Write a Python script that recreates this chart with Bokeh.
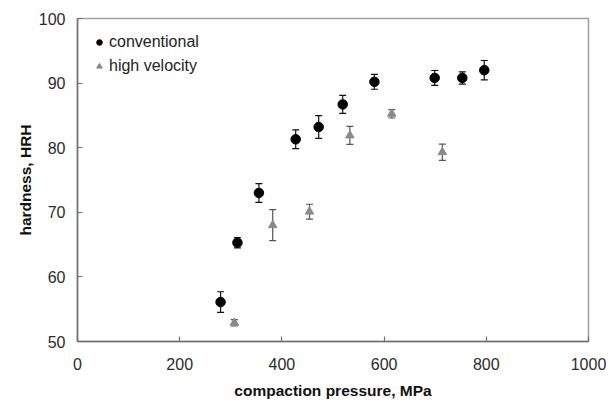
from bokeh.plotting import figure
from bokeh.models import (ColumnDataSource, Whisker, TeeHead, Legend, LegendItem,
                          FixedTicker, Range1d)
from bokeh.embed import file_html
from bokeh.resources import INLINE

# ---- data ----
conv_x = [280, 313, 355, 427, 472, 519, 581, 699, 753, 796]
conv_y = [56.1, 65.3, 73.0, 81.3, 83.2, 86.7, 90.2, 90.8, 90.8, 92.0]
conv_err = [1.6, 0.8, 1.45, 1.45, 1.75, 1.4, 1.15, 1.15, 0.95, 1.5]

hv_x = [307, 382, 454, 533, 615, 714]
hv_y = [52.9, 68.0, 70.1, 81.9, 85.25, 79.3]
hv_err = [0.5, 2.4, 1.15, 1.4, 0.65, 1.25]

x_ticks = [0, 200, 400, 600, 800, 1000]
y_ticks = [50, 60, 70, 80, 90, 100]

series_names = ["conventional", "high velocity"]
x_title = "compaction pressure, MPa"
y_title = "hardness, HRH"

FONT = "Liberation Sans"

conv_src = ColumnDataSource(dict(
    x=conv_x, y=conv_y,
    lo=[v - e for v, e in zip(conv_y, conv_err)],
    hi=[v + e for v, e in zip(conv_y, conv_err)]))
hv_src = ColumnDataSource(dict(
    x=hv_x, y=hv_y,
    lo=[v - e for v, e in zip(hv_y, hv_err)],
    hi=[v + e for v, e in zip(hv_y, hv_err)]))

p = figure(width=611, height=404, output_backend="svg", toolbar_location=None,
           x_range=Range1d(0, 1000), y_range=Range1d(50, 100),
           min_border_left=77, min_border_right=23, min_border_top=18,
           min_border_bottom=63)
p.background_fill_color = "white"
p.border_fill_color = "white"
p.outline_line_color = "#a0a0a0"
p.outline_line_width = 1.5
p.grid.visible = False

# error bars
for src, col in ((conv_src, "#111111"), (hv_src, "#555555")):
    w = Whisker(source=src, base="x", upper="hi", lower="lo",
                line_color=col, line_width=1.2,
                upper_head=TeeHead(size=7, line_color=col, line_width=1.2),
                lower_head=TeeHead(size=7, line_color=col, line_width=1.2))
    p.add_layout(w)

r_conv = p.scatter("x", "y", source=conv_src, marker="circle", size=9.5,
                   fill_color="black", line_color="black")
r_hv = p.scatter("x", "y", source=hv_src, marker="triangle", size=8.5,
                 fill_color="#8a8a8a", line_color="#8a8a8a")

legend = Legend(items=[LegendItem(label=series_names[0], renderers=[r_conv]),
                       LegendItem(label=series_names[1], renderers=[r_hv])],
                location="top_left", margin=8, padding=7,
                glyph_width=14, glyph_height=16, label_height=16, spacing=6,
                label_standoff=3, label_text_font=FONT,
                label_text_font_size="16px", label_text_color="#222222",
                background_fill_alpha=0, border_line_alpha=0)
p.add_layout(legend)

for ax in (p.xaxis[0], p.yaxis[0]):
    ax.axis_line_color = "#707070"
    ax.axis_line_width = 1.5
    ax.major_tick_line_color = "#707070"
    ax.major_tick_line_width = 1.2
    ax.major_tick_in = 5
    ax.major_tick_out = 0
    ax.minor_tick_line_color = None
    ax.major_label_text_font = FONT
    ax.major_label_text_font_size = "16px"
    ax.major_label_text_color = "#2b2b2b"
    ax.axis_label_text_font = FONT
    ax.axis_label_text_font_size = "15.5px"
    ax.axis_label_text_font_style = "bold"
    ax.axis_label_text_color = "#111111"

p.xaxis[0].ticker = FixedTicker(ticks=x_ticks)
p.yaxis[0].ticker = FixedTicker(ticks=y_ticks)
p.xaxis[0].axis_label = x_title
p.yaxis[0].axis_label = y_title
p.xaxis[0].major_label_standoff = 16
p.xaxis[0].axis_label_standoff = 9
p.yaxis[0].major_label_standoff = 12
p.yaxis[0].axis_label_standoff = 2

open("out.html", "w").write(file_html(p, INLINE))
